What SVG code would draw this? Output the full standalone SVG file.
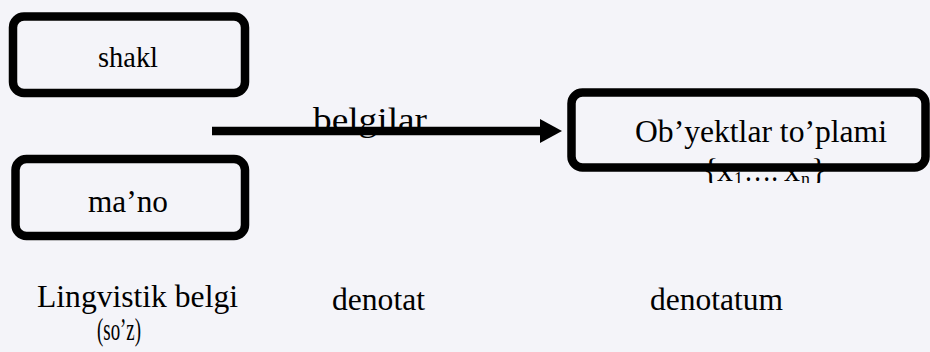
<svg xmlns="http://www.w3.org/2000/svg" width="930" height="352" viewBox="0 0 930 352">
  <style>
    .box { fill: none; stroke: #000; stroke-width: 8.5; }
    .t { font-family: "Liberation Serif", "Times New Roman", serif; fill: #000; }
    .conn { stroke: #000; stroke-width: 8.5; fill: none; }
  </style>
  <defs>
    <marker id="ah" markerUnits="userSpaceOnUse" markerWidth="22" markerHeight="24" refX="5" refY="12" orient="auto">
      <path d="M0,0 L22,12 L0,24 Z" fill="#000"/>
    </marker>
    <clipPath id="clipSet">
      <rect x="600" y="100" width="300" height="83"/>
    </clipPath>
  </defs>
  <rect x="0" y="0" width="930" height="352" fill="#f4f4f9"/>

  <g id="node-shakl">
    <rect class="box" x="13" y="16.5" width="232" height="76.5" rx="11"/>
    <text class="t" x="128" y="66.5" font-size="29" text-anchor="middle" textLength="60" lengthAdjust="spacingAndGlyphs">shakl</text>
  </g>

  <g id="node-mano">
    <rect class="box" x="15.5" y="159" width="229.5" height="77" rx="11"/>
    <text class="t" x="128" y="212" font-size="31" text-anchor="middle" textLength="80" lengthAdjust="spacingAndGlyphs">ma’no</text>
  </g>

  <g id="label-belgilar">
    <text class="t" x="370" y="131" font-size="34" text-anchor="middle" textLength="114" lengthAdjust="spacingAndGlyphs">belgilar</text>
  </g>

  <g id="connectors">
    <line class="conn" x1="212" y1="131" x2="545" y2="131" marker-end="url(#ah)"/>
  </g>

  <g id="node-obyektlar">
    <text class="t" x="761" y="142" font-size="32" text-anchor="middle" textLength="252" lengthAdjust="spacingAndGlyphs">Ob’yektlar to’plami</text>
    <g clip-path="url(#clipSet)">
      <text class="t" y="181" font-size="32"><tspan x="703">{</tspan><tspan x="717">x</tspan><tspan x="734" font-size="18" dy="4">1</tspan><tspan x="744" dy="-4" textLength="34" lengthAdjust="spacingAndGlyphs">….</tspan><tspan x="784">x</tspan><tspan x="801" font-size="18" dy="4">n</tspan><tspan x="811" dy="-4">}</tspan></text>
    </g>
    <rect class="box" x="571.5" y="92.5" width="354" height="75" rx="11"/>
  </g>

  <g id="labels-bottom">
    <text class="t" x="37" y="307" font-size="32" textLength="201" lengthAdjust="spacingAndGlyphs">Lingvistik belgi</text>
    <text class="t" x="97" y="340" font-size="32" textLength="44" lengthAdjust="spacingAndGlyphs">(so’z)</text>
    <text class="t" x="332" y="310" font-size="32" textLength="93" lengthAdjust="spacingAndGlyphs">denotat</text>
    <text class="t" x="650" y="310" font-size="32" textLength="133" lengthAdjust="spacingAndGlyphs">denotatum</text>
  </g>
</svg>
